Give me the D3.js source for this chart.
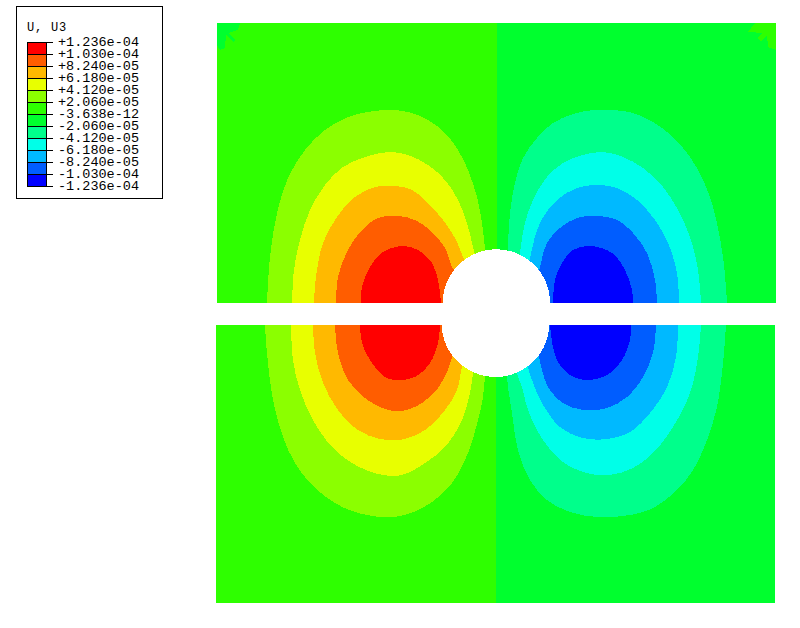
<!DOCTYPE html>
<html>
<head>
<meta charset="utf-8">
<script src="https://cdnjs.cloudflare.com/ajax/libs/d3/7.8.5/d3.min.js"></script>
<style>html,body{margin:0;padding:0;background:#fff}svg{display:block}</style>
</head>
<body>
<script>
const legendTitle = "U, U3";
const legendLabels = ["+1.236e-04","+1.030e-04","+8.240e-05","+6.180e-05","+4.120e-05","+2.060e-05","-3.638e-12","-2.060e-05","-4.120e-05","-6.180e-05","-8.240e-05","-1.030e-04","-1.236e-04"];
const legendColors = ["#ff0000","#ff5d00","#ffb900","#e8ff00","#8bff00","#2eff00","#00ff2e","#00ff8b","#00ffe8","#00b9ff","#005dff","#0000ff"];
const positiveBands = ["#8bff00","#e8ff00","#ffb900","#ff5d00","#ff0000"];
const negativeBands = ["#00ff8b","#00ffe8","#00b9ff","#005dff","#0000ff"];
const baseLeft = "#2eff00", baseRight = "#00ff2e";

// contours: [distance along plate, height from the crack]
const upperLeft = [
 [[50,0],[53,46],[60,90],[71,125],[88,153],[108,173],[131,186],[151,191],[171,193],[191,191],[211,183],[228,170],[241,153],[251,133],[260,106],[265,80],[268,55],[272,30],[272,0]],
 [[75,0],[77,33],[83,63],[93,93],[108,118],[126,136],[148,146],[171,151],[191,148],[211,138],[228,123],[241,103],[250,80],[256,56],[262,30],[262,0]],
 [[97,0],[99,26],[106,60],[120,86],[138,106],[158,116],[178,117],[195,113],[211,100],[226,83],[238,65],[246,46],[255,20],[255,0]],
 [[119,0],[121,26],[130,51],[145,73],[161,85],[181,87],[198,83],[215,71],[228,55],[235,36],[245,20],[245,0]],
 [[144,0],[145,16],[153,36],[166,51],[186,57],[201,53],[215,40],[221,23],[224,0]]
];
const upperRight = [
 [[510,0],[506,46],[496,96],[486,123],[473,146],[456,166],[436,181],[416,190],[396,193],[376,193],[356,189],[336,180],[320,165],[306,145],[298,120],[293,90],[291,53],[291,30],[291,0]],
 [[484,0],[481,33],[473,66],[461,93],[446,116],[426,135],[406,146],[386,151],[366,148],[346,140],[330,126],[316,103],[308,80],[303,50],[300,0]],
 [[462,0],[460,30],[451,60],[438,83],[420,103],[400,115],[380,118],[360,115],[340,103],[323,80],[313,45],[305,0]],
 [[440,0],[438,23],[430,50],[416,70],[400,83],[380,87],[360,85],[343,75],[330,60],[323,36],[315,0]],
 [[416,0],[415,13],[408,33],[395,50],[373,57],[356,53],[345,40],[338,23],[336,0]]
];
const lowerLeft = [
 [[49,0],[51,28],[57,75],[67,112],[79,138],[96,160],[119,178],[139,187],[166,192],[189,190],[216,177],[236,158],[252,128],[262,95],[267,72],[269,52],[272,30],[272,0]],
 [[75,0],[77,35],[84,65],[97,95],[116,122],[136,138],[162,149],[186,150],[209,138],[229,122],[246,95],[254,68],[257,48],[262,20],[262,0]],
 [[97,0],[99,28],[107,58],[122,85],[142,105],[164,114],[189,114],[209,105],[229,85],[241,65],[246,42],[255,20],[255,0]],
 [[119,0],[122,28],[132,55],[149,73],[169,84],[186,86],[206,78],[222,63],[232,45],[236,32],[245,15],[245,0]],
 [[144,0],[146,18],[154,35],[169,52],[184,55],[199,52],[214,38],[222,18],[224,0]]
];
const lowerRight = [
 [[510,0],[507,38],[501,82],[491,115],[477,145],[461,165],[437,183],[414,190],[381,192],[354,187],[331,175],[314,155],[302,125],[296,88],[291,52],[291,0]],
 [[485,0],[482,32],[474,68],[457,102],[437,128],[417,143],[394,150],[371,148],[347,137],[327,115],[312,85],[306,62],[301,48],[300,0]],
 [[462,0],[460,32],[451,62],[434,88],[414,107],[391,114],[367,113],[344,102],[326,78],[316,55],[312,42],[306,0]],
 [[440,0],[437,28],[427,52],[411,72],[391,83],[367,85],[347,78],[332,62],[326,45],[323,32],[315,0]],
 [[415,0],[414,15],[406,35],[391,50],[371,55],[354,50],[342,37],[337,22],[334,0]]
];
const cornerLeft = [[0,280],[23,280],[21,273],[11,270],[19,263],[16,261],[9,268],[8,255],[3,253],[0,258]];
const cornerRight = [[538,280],[559,280],[559,253],[551,256],[550,268],[544,261],[540,265],[546,270],[531,271]];
const plateWidth = 559, split = 280;

const svg = d3.select("body").append("svg").attr("width",800).attr("height",628)
  .attr("viewBox","0 0 800 628").attr("font-family","'Liberation Mono',monospace");

const panels = [
 {id:"upper", x:d3.scaleLinear().domain([0,plateWidth]).range([217,776]),
  y:d3.scaleLinear().domain([0,280]).range([303,23]), height:280, left:upperLeft, right:upperRight,
  hole:{x:279.4,h:0,r:53.7}, corners:[[cornerLeft,baseRight],[cornerRight,baseLeft]]},
 {id:"lower", x:d3.scaleLinear().domain([0,plateWidth]).range([216,775]),
  y:d3.scaleLinear().domain([0,278]).range([325,603]), height:278, left:lowerLeft, right:lowerRight,
  hole:{x:279.5,h:-2,r:54}, corners:[]}
];

panels.forEach(p=>{
  svg.append("clipPath").attr("id","clip-"+p.id).append("rect")
    .attr("x",p.x(0)).attr("y",Math.min(p.y(0),p.y(p.height)))
    .attr("width",p.x(plateWidth)-p.x(0)).attr("height",Math.abs(p.y(p.height)-p.y(0)));
  const g = svg.append("g").attr("clip-path",`url(#clip-${p.id})`).attr("shape-rendering","crispEdges");
  const top = Math.min(p.y(0),p.y(p.height)), hgt = Math.abs(p.y(p.height)-p.y(0));
  g.append("rect").attr("x",p.x(0)).attr("y",top).attr("width",p.x(split)-p.x(0)).attr("height",hgt).attr("fill",baseLeft);
  g.append("rect").attr("x",p.x(split)).attr("y",top).attr("width",p.x(plateWidth)-p.x(split)).attr("height",hgt).attr("fill",baseRight);
  const smooth = d3.line().x(d=>p.x(d[0])).y(d=>p.y(d[1])).curve(d3.curveCatmullRom.alpha(0.5));
  const straight = d3.line().x(d=>p.x(d[0])).y(d=>p.y(d[1]));
  p.corners.forEach(([pts,col])=>g.append("path").attr("d",straight(pts)+"Z").attr("fill",col));
  g.selectAll("path.pos").data(p.left).join("path").attr("class","pos")
    .attr("d",d=>smooth(d)+"Z").attr("fill",(d,i)=>positiveBands[i]);
  g.selectAll("path.neg").data(p.right).join("path").attr("class","neg")
    .attr("d",d=>smooth(d)+"Z").attr("fill",(d,i)=>negativeBands[i]);
  g.append("circle").attr("cx",p.x(p.hole.x)).attr("cy",p.y(p.hole.h))
    .attr("r",p.x(p.hole.r)-p.x(0)).attr("fill","#fff");
});

// legend
const legY = d3.scaleLinear().domain([0,legendColors.length]).range([42.5,186.5]);
const leg = svg.append("g");
leg.append("rect").attr("x",16.5).attr("y",6.5).attr("width",146).attr("height",192)
  .attr("fill","#fff").attr("stroke","#000").attr("stroke-width",1).attr("shape-rendering","crispEdges");
leg.append("text").attr("x",27).attr("y",31).attr("font-size",12).attr("letter-spacing",0.8).attr("fill","#000").text(legendTitle);
leg.selectAll("rect.band").data(legendColors).join("rect").attr("class","band")
  .attr("x",27.5).attr("y",(d,i)=>legY(i)).attr("width",19).attr("height",12)
  .attr("fill",d=>d).attr("stroke","#000").attr("shape-rendering","crispEdges");
leg.selectAll("line.tick").data(legendLabels).join("line").attr("class","tick")
  .attr("x1",46).attr("x2",52.5).attr("y1",(d,i)=>legY(i)).attr("y2",(d,i)=>legY(i))
  .attr("stroke","#000").attr("shape-rendering","crispEdges");
leg.selectAll("text.lab").data(legendLabels).join("text").attr("class","lab")
  .attr("x",58).attr("y",(d,i)=>legY(i)+3.5).attr("font-size",13.5).attr("fill","#000").text(d=>d);
</script>
</body>
</html>
